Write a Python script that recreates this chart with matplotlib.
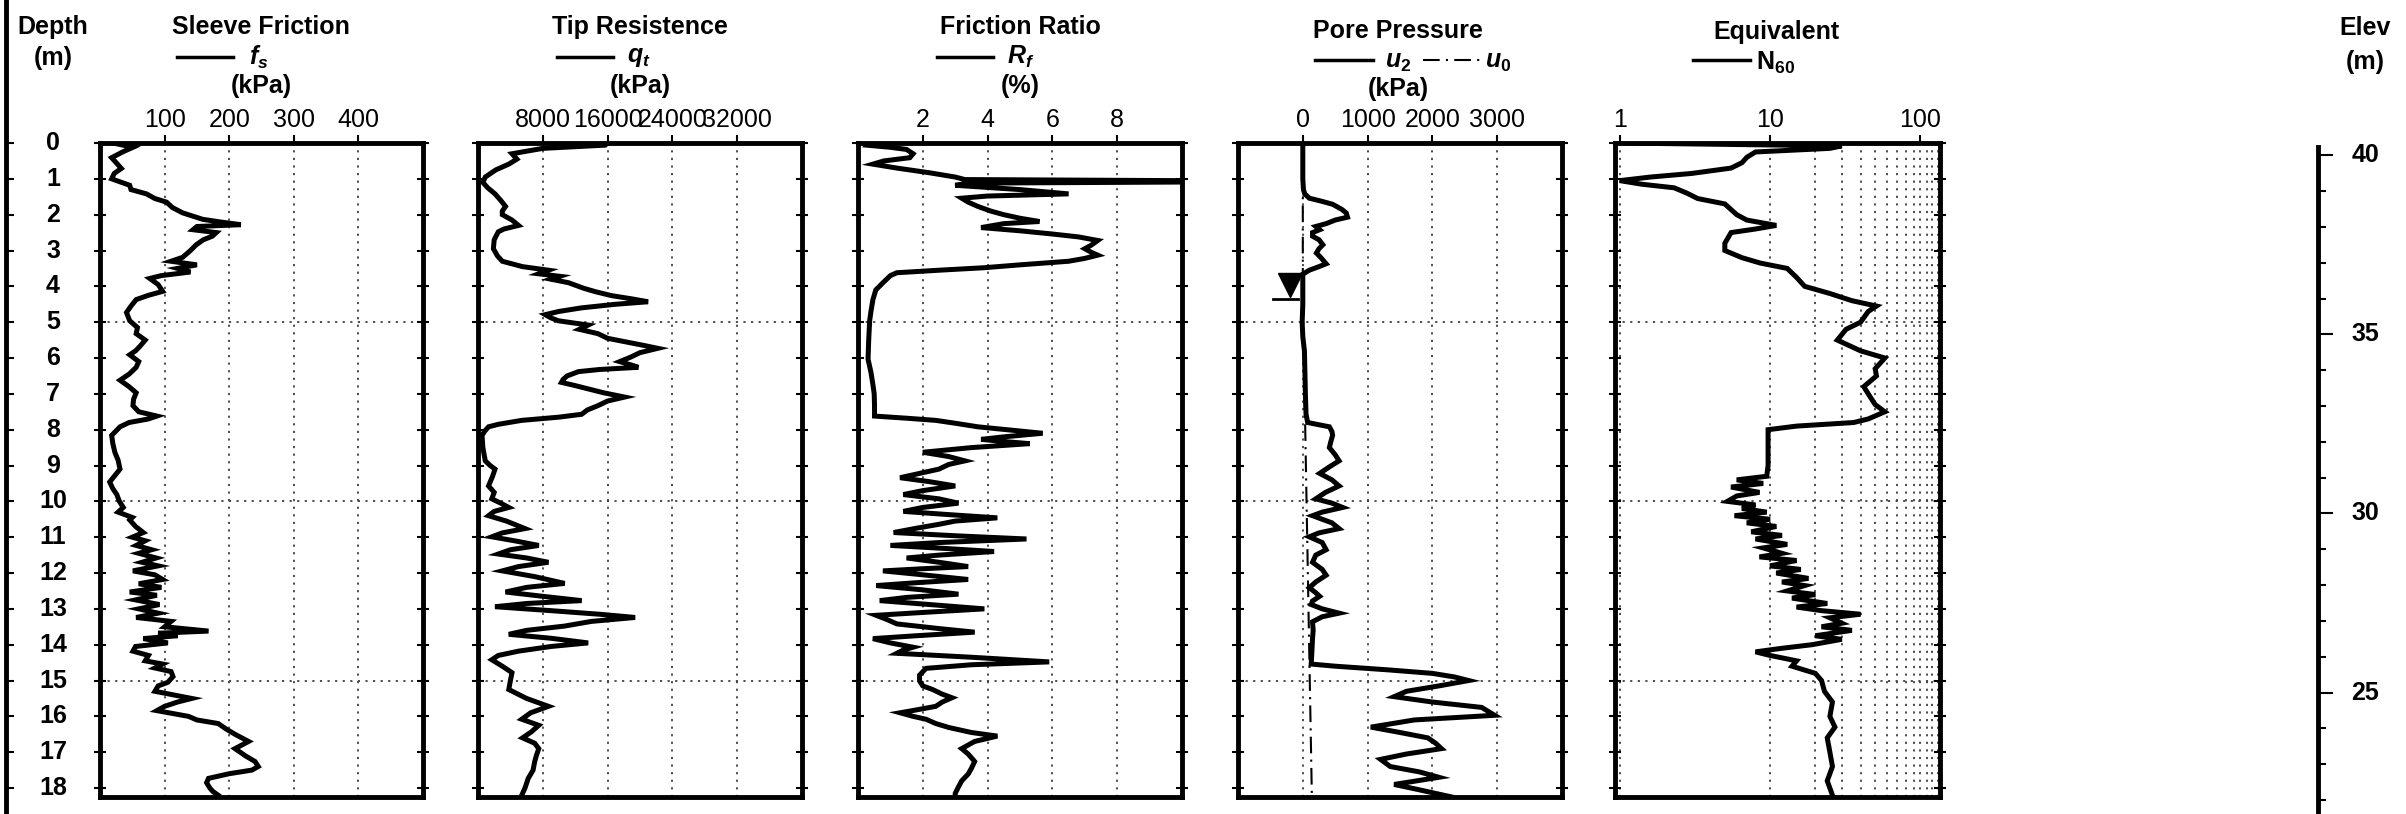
import matplotlib
matplotlib.use("Agg")
import matplotlib.pyplot as plt
from matplotlib.lines import Line2D
from matplotlib.ticker import FixedLocator, NullFormatter

plt.rcParams['font.family'] = ['Liberation Sans', 'DejaVu Sans']
plt.rcParams['mathtext.fontset'] = 'custom'
plt.rcParams['mathtext.it'] = 'Liberation Sans:italic:bold'
plt.rcParams['mathtext.rm'] = 'Liberation Sans:bold'
plt.rcParams['mathtext.bf'] = 'Liberation Sans:bold'

# ---------------- data ----------------
depth_ticks = list(range(0, 19))
elev_major = [25, 30, 35, 40]
elev_minor = list(range(22, 41))

fs_depth = [0.0, 0.12, 0.25, 0.41, 0.55, 0.71, 0.85, 1.0, 1.18, 1.3, 1.42, 1.55, 1.65, 1.8, 1.95,
            2.13, 2.2, 2.28, 2.33, 2.42, 2.5, 2.6, 2.7, 2.84, 3.0, 3.19, 3.3, 3.4, 3.5, 3.6, 3.7,
            3.78, 3.95, 4.14, 4.25, 4.37, 4.55, 4.73, 4.96, 5.15, 5.32, 5.5, 5.67, 5.8, 5.91, 6.1,
            6.26, 6.45, 6.62, 6.8, 6.97, 7.15, 7.33, 7.5, 7.62, 7.7, 7.8, 7.92, 8.16, 8.4, 8.63,
            8.85, 9.1, 9.3, 9.46, 9.65, 9.81, 10.0, 10.17, 10.3, 10.45, 10.52, 10.7, 10.87, 11.0,
            11.1, 11.23, 11.35, 11.45, 11.58, 11.7, 11.8, 11.94, 12.05, 12.18, 12.3, 12.4, 12.53,
            12.62, 12.75, 12.88, 13.0, 13.12, 13.24, 13.35, 13.5, 13.62, 13.68, 13.75, 13.83,
            13.95, 14.05, 14.18, 14.3, 14.45, 14.54, 14.65, 14.75, 14.89, 15.05, 15.15, 15.3,
            15.5, 15.6, 15.72, 15.84, 16.0, 16.1, 16.2, 16.35, 16.5, 16.7, 16.9, 17.1, 17.26,
            17.4, 17.5, 17.6, 17.73, 17.85, 18.0, 18.1, 18.2]
fs_kpa = [20, 51, 35, 18, 25, 33, 22, 18, 46, 48, 72, 85, 103, 112, 128,
          159, 185, 218, 150, 144, 180, 174, 160, 149, 140, 128, 110, 150, 120, 140, 95,
          77, 90, 97, 75, 56, 48, 41, 46, 58, 56, 70, 62, 55, 46, 60,
          56, 45, 31, 45, 56, 52, 51, 60, 88, 75, 45, 31, 18, 20, 23,
          28, 31, 22, 15, 20, 26, 30, 36, 28, 50, 46, 55, 67, 50,
          70, 56, 80, 60, 87, 65, 90, 51, 85, 97, 60, 95, 46,
          88, 55, 92, 60, 90, 56, 110, 100, 168, 90, 120, 67,
          105, 55, 51, 75, 70, 97, 85, 110, 113, 105, 90, 85,
          142, 120, 100, 88, 137, 150, 183, 195, 209, 230, 209, 225, 240,
          245, 235, 200, 168, 165, 170, 175, 183]

qt_depth = [0.0, 0.06, 0.15, 0.3, 0.45, 0.59, 0.75, 0.95, 1.1, 1.25, 1.42, 1.6, 1.77, 1.9, 2.0,
            2.15, 2.3, 2.4, 2.48, 2.7, 2.95, 3.15, 3.3, 3.45, 3.55, 3.65, 3.72, 3.8, 3.9, 4.05,
            4.15, 4.26, 4.35, 4.43, 4.5, 4.6, 4.7, 4.79, 4.88, 4.96, 5.08, 5.2, 5.32, 5.45,
            5.56, 5.65, 5.73, 5.85, 5.97, 6.1, 6.2, 6.26, 6.32, 6.38, 6.5, 6.6, 6.68, 6.77,
            6.86, 6.97, 7.09, 7.2, 7.33, 7.45, 7.57, 7.65, 7.74, 7.85, 7.92, 8.05, 8.16, 8.5,
            8.87, 9.0, 9.1, 9.3, 9.57, 9.75, 9.93, 10.05, 10.17, 10.28, 10.4, 10.55, 10.76,
            10.88, 10.99, 11.1, 11.23, 11.35, 11.47, 11.58, 11.7, 11.82, 11.94, 12.1, 12.29,
            12.4, 12.53, 12.65, 12.77, 12.85, 12.94, 13.05, 13.15, 13.24, 13.35, 13.48, 13.6,
            13.71, 13.82, 13.95, 14.05, 14.18, 14.3, 14.42, 14.6, 14.78, 15.0, 15.25, 15.5,
            15.72, 15.9, 16.08, 16.25, 16.43, 16.6, 16.75, 16.9, 17.1, 17.26, 17.5, 17.73,
            18.0, 18.2]
qt_kpa = [16000, 15700, 8000, 4200, 4800, 3800, 2200, 900, 600, 1200, 2100, 2800, 3400, 3000, 3000,
          4200, 5000, 3200, 2500, 2000, 1900, 2400, 3000, 5500, 8700, 7500, 10100, 9000, 11200, 13000,
          14500, 16500, 19000, 21000, 17000, 12800, 10000, 8300, 9000, 9900, 13600, 12500, 14800, 16000,
          18500, 20500, 22200, 20000, 18900, 17500, 19000, 19800, 15000, 12400, 11000, 10500, 10300, 12000,
          13600, 15500, 18100, 16000, 14800, 13500, 12800, 10000, 5400, 2500, 1300, 800, 500, 600,
          900, 1500, 2100, 1800, 1300, 2000, 1700, 2800, 3800, 2000, 1300, 3500, 5800,
          3000, 1700, 4500, 7500, 4000, 2500, 6000, 8700, 5000, 3000, 7000, 10700,
          6000, 3400, 8000, 12800, 6000, 2100, 9000, 15000, 19400, 14000, 10700, 6000,
          3800, 9000, 13600, 9000, 5000, 2500, 1700, 3000, 4200, 4000, 3800, 6000,
          8700, 6500, 5400, 7500, 6600, 5500, 7000, 7500, 7200, 7000, 6800, 6200,
          5800, 5400]

rf_depth = [0.0, 0.06, 0.12, 0.18, 0.3, 0.41, 0.5, 0.59, 0.7, 0.83, 0.95, 1.02, 1.05, 1.09, 1.12,
            1.18, 1.3, 1.42, 1.48, 1.54, 1.65, 1.77, 1.9, 2.0, 2.1, 2.19, 2.25, 2.36, 2.45, 2.54,
            2.62, 2.72, 2.85, 2.95, 3.05, 3.13, 3.22, 3.3, 3.4, 3.48, 3.55, 3.62, 3.7, 3.9, 4.1,
            4.37, 4.7, 4.96, 5.5, 6.03, 6.4, 6.74, 7.0, 7.33, 7.62, 7.68, 7.74, 7.82, 7.92, 8.02,
            8.1, 8.2, 8.27, 8.33, 8.39, 8.5, 8.63, 8.75, 8.87, 8.97, 9.1, 9.2, 9.34, 9.45, 9.57,
            9.7, 9.81, 9.93, 10.05, 10.17, 10.28, 10.37, 10.46, 10.55, 10.64, 10.75, 10.87, 10.96,
            11.05, 11.15, 11.23, 11.32, 11.4, 11.5, 11.58, 11.7, 11.82, 11.88, 11.94, 12.05,
            12.18, 12.27, 12.35, 12.47, 12.59, 12.68, 12.77, 12.9, 13.0, 13.1, 13.18, 13.3,
            13.42, 13.55, 13.65, 13.75, 13.83, 13.95, 14.07, 14.15, 14.24, 14.35, 14.48, 14.56,
            14.66, 14.85, 15.01, 15.15, 15.25, 15.38, 15.48, 15.6, 15.72, 15.82, 15.9, 16.0,
            16.08, 16.2, 16.31, 16.45, 16.55, 16.7, 16.9, 17.05, 17.26, 17.45, 17.61, 17.8,
            17.97, 18.15, 18.25]
rf_pct = [0.3, 0.26, 1.0, 1.5, 1.7, 1.6, 0.8, 0.46, 1.2, 2.2, 3.0, 3.3, 9.9, 9.9, 3.4,
          3.0, 5.0, 6.5, 4.0, 3.2, 3.4, 3.7, 4.1, 4.5, 5.0, 5.6, 4.5, 3.8, 5.0, 6.0,
          6.8, 7.4, 7.2, 7.0, 7.2, 7.4, 7.0, 6.5, 5.0, 3.9, 2.5, 1.2, 1.0, 0.77, 0.55,
          0.46, 0.4, 0.36, 0.33, 0.31, 0.4, 0.46, 0.5, 0.51, 0.51, 1.5, 2.4, 3.0, 3.7, 4.8,
          5.7, 4.5, 3.8, 4.5, 5.3, 3.5, 2.0, 2.8, 3.3, 2.8, 2.5, 2.0, 1.3, 2.2, 3.0,
          2.0, 1.4, 2.5, 3.1, 2.0, 1.4, 2.8, 4.3, 3.0, 2.5, 1.8, 1.1, 3.0,
          5.2, 2.5, 1.0, 2.8, 4.2, 2.5, 1.5, 2.5, 3.4, 2.0, 0.77, 2.0,
          3.4, 1.8, 0.56, 2.0, 3.1, 1.5, 0.67, 2.5, 3.9, 2.0, 0.56, 0.9,
          1.2, 2.5, 3.6, 1.8, 0.46, 1.0, 1.7, 1.4, 1.2, 3.5, 5.9, 3.5,
          2.1, 1.9, 1.9, 2.0, 2.3, 2.6, 2.9, 2.6, 2.4, 1.8, 1.3, 1.7,
          2.1, 2.4, 2.8, 3.5, 4.3, 3.6, 3.2, 3.4, 3.6, 3.5, 3.4, 3.2,
          3.1, 3.0, 3.0]

u2_depth = [0.0, 1.0, 1.3, 1.42, 1.54, 1.63, 1.71, 1.85, 1.95, 2.07, 2.15, 2.25, 2.33, 2.42, 2.5,
            2.6, 2.7, 2.84, 2.95, 3.07, 3.2, 3.37, 3.45, 3.55, 3.66, 4.5, 5.0, 5.4, 5.8, 7.0,
            7.57, 7.8, 7.92, 8.05, 8.16, 8.35, 8.5, 8.7, 8.87, 9.05, 9.22, 9.4, 9.57, 9.75, 9.93,
            10.05, 10.17, 10.3, 10.4, 10.6, 10.76, 10.88, 10.99, 11.15, 11.35, 11.5, 11.7, 11.9,
            12.06, 12.25, 12.41, 12.55, 12.65, 12.78, 12.88, 13.0, 13.12, 13.22, 13.36, 13.6,
            13.83, 14.2, 14.54, 14.6, 14.7, 14.8, 14.9, 15.0, 15.15, 15.3, 15.45, 15.6, 15.75,
            15.97, 16.1, 16.3, 16.45, 16.6, 16.75, 16.9, 17.05, 17.2, 17.4, 17.55, 17.7, 17.9,
            18.05, 18.25]
u2_kpa = [0, 0, 10, 30, 100, 300, 460, 600, 670, 690, 500, 360, 200, 260, 150,
          150, 250, 310, 250, 210, 280, 360, 250, 100, 0, 0, -10, 0, 25, 40,
          50, 75, 410, 450, 460, 430, 410, 500, 560, 400, 260, 450, 560, 350, 200,
          450, 615, 300, 150, 450, 560, 250, 100, 300, 360, 200, 150, 300,
          360, 200, 100, 200, 260, 150, 130, 300, 560, 300, 150, 160,
          150, 140, 130, 500, 1300, 2000, 2340, 2560, 2100, 1600, 1410, 2000, 2760,
          2960, 1720, 1050, 1500, 1930, 2050, 2140, 1600, 1200, 1350, 1800, 2100, 1410,
          1800, 2300]

u0_depth = [0.0, 4.2, 18.25]
u0_kpa = [0, 0, 140]

water_depth = 3.97
water_u = -205

n60_depth = [0.0, 0.08, 0.15, 0.25, 0.4, 0.55, 0.7, 0.85, 0.95, 1.05, 1.15, 1.25, 1.4, 1.55, 1.7,
             2.0, 2.15, 2.3, 2.4, 2.5, 2.8, 3.0, 3.2, 3.35, 3.5, 3.75, 4.0, 4.2, 4.4, 4.55,
             4.7, 5.0, 5.2, 5.5, 5.8, 6.0, 6.3, 6.5, 6.8, 7.0, 7.3, 7.5, 7.7, 7.8, 7.9,
             8.0, 8.5, 9.0, 9.3, 9.4, 9.5, 9.6, 9.75, 9.85, 10.0, 10.1, 10.2, 10.3, 10.4,
             10.5, 10.6, 10.7, 10.85, 10.95, 11.05, 11.2, 11.3, 11.45, 11.55, 11.65, 11.8,
             11.9, 12.0, 12.15, 12.25, 12.35, 12.5, 12.6, 12.7, 12.85, 12.95, 13.05, 13.15,
             13.25, 13.4, 13.5, 13.6, 13.75, 13.85, 14.0, 14.1, 14.2, 14.3, 14.45, 14.6,
             14.8, 15.0, 15.3, 15.6, 16.0, 16.3, 16.6, 17.0, 17.4, 17.8, 18.2]
n60_val = [1.0, 30, 25, 8.0, 7.0, 6.5, 5.5, 3.0, 1.6, 1.0, 1.4, 2.3, 2.8, 3.3, 5.0,
           6.0, 7.0, 11, 8.0, 5.5, 5.0, 5.0, 6.5, 8.6, 13, 15, 17, 25, 35, 51,
           45, 40, 32, 28, 40, 58, 50, 51, 42, 45, 50, 58, 45, 36, 15,
           9.7, 9.7, 9.7, 9.5, 6.0, 9.0, 5.5, 8.5, 6.0, 5.2, 8.0, 6.5, 9.5, 5.8,
           10, 7.0, 11, 7.5, 12, 8.0, 13, 9.0, 12, 8.5, 15, 10,
           16, 11, 18, 12, 17, 13, 20, 14, 24, 15, 22, 40,
           25, 30, 22, 35, 20, 30, 19, 12, 8.0, 10, 15, 14,
           20, 22, 23, 26, 25, 27, 24, 25, 26, 24, 26]

# ---------------- layout helpers ----------------
W, H = 2406, 814
fig = plt.figure(figsize=(W / 100, H / 100), dpi=100)

TOP, BOT = 143, 797
DEPTH_MAX = 18.25


def rect(x0, x1, y0, y1):
    return [x0 / W, 1 - y1 / H, (x1 - x0) / W, (y1 - y0) / H]


def ftext(x, y, s, **kw):
    kw.setdefault('ha', 'center')
    kw.setdefault('va', 'center')
    fig.text(x / W, 1 - y / H, s, **kw)


def fline(x0, x1, y, **kw):
    fig.add_artist(Line2D([x0 / W, x1 / W], [1 - y / H, 1 - y / H],
                          transform=fig.transFigure, **kw))


GRID = dict(color='0.25', lw=1.3, ls=(0, (1.2, 3.0)), zorder=1)
CURVE = dict(color='black', lw=3.6, zorder=3, solid_joinstyle='miter')


def make_panel(x0, x1, xlim, xticks, xlabels, log=False):
    ax = fig.add_axes(rect(x0, x1, TOP, BOT))
    if log:
        ax.set_xscale('log')
    ax.set_xlim(*xlim)
    ax.set_ylim(DEPTH_MAX, 0)
    ax.xaxis.set_major_locator(FixedLocator(xticks))
    ax.xaxis.set_minor_locator(FixedLocator([]))
    ax.set_xticklabels(xlabels)
    ax.xaxis.tick_top()
    ax.tick_params(axis='x', which='major', direction='out', length=6, width=1.5,
                   pad=2, labelsize=18, top=True, bottom=False)
    ax.set_yticks(depth_ticks)
    ax.tick_params(axis='y', which='major', direction='inout', length=9, width=1.5,
                   left=True, right=True, labelleft=False)
    for s in ax.spines.values():
        s.set_linewidth(3.5)
    for xv in xticks:
        ax.axvline(xv, **GRID)
    for d in (5, 10, 15):
        ax.axhline(d, **GRID)
    return ax


# ---------------- panels ----------------
ax1 = make_panel(100, 423, (0, 500), [100, 200, 300, 400], ['100', '200', '300', '400'])
ax1.plot(fs_kpa, fs_depth, **CURVE)

ax2 = make_panel(478, 802, (0, 40000), [8000, 16000, 24000, 32000],
                 ['8000', '16000', '24000', '32000'])
ax2.plot(qt_kpa, qt_depth, **CURVE)

ax3 = make_panel(858, 1182, (0, 10), [2, 4, 6, 8], ['2', '4', '6', '8'])
ax3.plot(rf_pct, rf_depth, clip_on=True, **CURVE)

ax4 = make_panel(1238, 1562, (-1000, 4000), [0, 1000, 2000, 3000],
                 ['0', '1000', '2000', '3000'])
ax4.plot(u0_kpa, u0_depth, color='black', lw=1.5, ls=(0, (8, 3, 1, 3)), zorder=2)
ax4.plot(u2_kpa, u2_depth, **CURVE)
ax4.plot([water_u], [water_depth], marker='v', ms=17, color='black', zorder=4)
ax4.plot([water_u - 250, water_u + 130], [water_depth + 0.38] * 2, color='black', lw=2, zorder=4)

ax5 = make_panel(1615, 1940, (0.93, 135), [1, 10, 100], ['1', '10', '100'], log=True)
for xv in [20, 30, 40, 50, 60, 70, 80, 90, 110, 120, 130]:
    ax5.axvline(xv, **GRID)
ax5.plot(n60_val, n60_depth, **CURVE)

# ---------------- depth axis (left) ----------------
fig.add_artist(Line2D([6 / W, 6 / W], [0, 1], transform=fig.transFigure, color='black', lw=3.5))
axd = fig.add_axes(rect(6, 100, TOP, BOT))
axd.set_ylim(DEPTH_MAX, 0)
axd.set_xlim(0, 1)
axd.set_xticks([])
axd.set_yticks(depth_ticks)
axd.tick_params(axis='y', direction='in', length=6, width=1.5, labelleft=False)
for k, s in axd.spines.items():
    s.set_visible(False)
axd.patch.set_alpha(0)
for d in depth_ticks:
    axd.text(0.5, d, str(d), ha='center', va='center', fontsize=18, fontweight='bold')

ftext(53, 27, 'Depth', fontsize=18, fontweight='bold')
ftext(53, 58, '(m)', fontsize=18, fontweight='bold')

# ---------------- elevation axis (right) ----------------
E_TOP = 40.34
axe = fig.add_axes(rect(2318, 2400, 147, 812))
axe.set_ylim(E_TOP - (812 - TOP) / 35.83, E_TOP - (147 - TOP) / 35.83)
axe.set_xlim(0, 1)
axe.set_xticks([])
axe.yaxis.set_major_locator(FixedLocator(elev_major))
axe.yaxis.set_minor_locator(FixedLocator(elev_minor))
axe.yaxis.set_minor_formatter(NullFormatter())
axe.tick_params(axis='y', which='major', direction='in', length=11, width=1.5, labelleft=False)
axe.tick_params(axis='y', which='minor', direction='in', length=6, width=1.5)
for k, s in axe.spines.items():
    s.set_visible(k == 'left')
axe.spines['left'].set_linewidth(3.5)
axe.patch.set_alpha(0)
for e in elev_major:
    axe.text(47 / 82, e, str(e), ha='center', va='center', fontsize=18, fontweight='bold')
ftext(2365, 28, 'Elev', fontsize=18, fontweight='bold')
ftext(2365, 62, '(m)', fontsize=18, fontweight='bold')

# ---------------- panel headers ----------------
HDR = dict(fontsize=18, fontweight='bold')
ftext(261, 27, 'Sleeve Friction', **HDR)
fline(177, 233, 57, color='black', lw=2.5)
ftext(249, 57, r'$f_s$', ha='left', fontsize=18)
ftext(261, 86, '(kPa)', **HDR)

ftext(640, 27, 'Tip Resistence', **HDR)
fline(557, 613, 57, color='black', lw=2.5)
ftext(627, 57, r'$q_t$', ha='left', fontsize=18)
ftext(640, 86, '(kPa)', **HDR)

ftext(1020, 27, 'Friction Ratio', **HDR)
fline(937, 993, 57, color='black', lw=2.5)
ftext(1007, 57, r'$R_f$', ha='left', fontsize=18)
ftext(1020, 86, '(%)', **HDR)

ftext(1398, 31, 'Pore Pressure', **HDR)
fline(1315, 1373, 60, color='black', lw=2.5)
ftext(1385, 62, r'$u_2$', ha='left', fontsize=18)
fline(1423, 1483, 60, color='black', lw=1.5, ls=(0, (8, 3, 1, 3)))
ftext(1485, 62, r'$u_0$', ha='left', fontsize=18)
ftext(1398, 89, '(kPa)', **HDR)

ftext(1776, 32, 'Equivalent', **HDR)
fline(1693, 1750, 60, color='black', lw=2.5)
ftext(1756, 63, r'$\mathrm{N}_{60}$', ha='left', fontsize=18)

fig.savefig('out.png', dpi=100)
